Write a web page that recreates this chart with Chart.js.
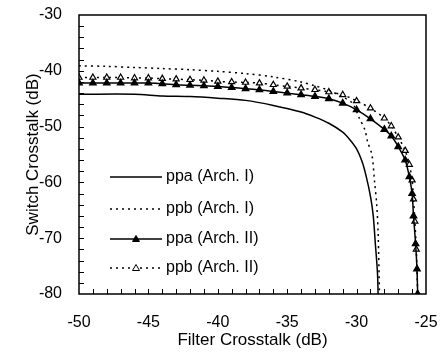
<!DOCTYPE html>
<html>
<head>
<meta charset="utf-8">
<script src="https://cdn.jsdelivr.net/npm/chart.js@4"></script>
<style>
  html, body { margin: 0; padding: 0; background: #fff; }
  #wrap { width: 443px; height: 356px; }
</style>
</head>
<body>
<div id="wrap"><canvas id="c" width="443" height="356"></canvas></div>
<script>
// filter crosstalk (dB) / switch crosstalk (dB)
var ppaArch1X = [-50, -46, -44, -42, -40, -38, -36, -34, -33, -32, -31, -30.5, -30, -29.6, -29.3, -29, -28.8, -28.65, -28.5, -28.45];
var ppaArch1Y = [-44.2, -44.2, -44.5, -44.6, -44.9, -45.3, -46.2, -47.4, -48.3, -49.4, -51, -52.3, -54, -56.3, -59, -62.5, -66, -71, -76, -80];

var ppbArch1X = [-50, -48, -46, -44, -42, -40, -38, -36, -34, -33, -32, -31, -30.3, -29.8, -29.4, -29.2, -28.9, -28.7, -28.55, -28.45, -28.35];
var ppbArch1Y = [-39.1, -39.2, -39.4, -39.6, -39.8, -40.1, -40.5, -41.1, -42, -42.7, -43.5, -44.7, -45.8, -48.5, -50.6, -52.8, -55, -60, -64, -69, -80];

var ppaArch2X = [-50, -49, -48, -47, -46, -45, -44, -43, -42, -41, -40, -39, -38, -37, -36, -35, -34, -33, -32, -31, -30, -29, -28, -27.5, -27, -26.5, -26.2, -26, -25.9, -25.75, -25.65, -25.6];
var ppaArch2Y = [-42.2, -42.2, -42.2, -42.2, -42.2, -42.2, -42.3, -42.5, -42.6, -42.7, -42.8, -43, -43.2, -43.4, -43.7, -44, -44.3, -44.6, -45, -45.8, -47, -48.6, -50.5, -51.7, -53.6, -56, -59, -62, -66, -71, -75.5, -80];

var ppbArch2X = [-50, -49, -48, -47, -46, -45, -44, -43, -42, -41, -40, -39, -38, -37, -36, -35, -34, -33, -32, -31, -30, -29, -28, -27.5, -27, -26.5, -26.2, -26, -25.9, -25.8, -25.7, -25.6];
var ppbArch2Y = [-41.2, -41.2, -41.2, -41.2, -41.3, -41.3, -41.4, -41.5, -41.6, -41.7, -41.9, -42, -42.1, -42.2, -42.5, -42.8, -43.1, -43.4, -43.8, -44.3, -45.4, -46.7, -48.5, -49.9, -51.9, -54.3, -56.8, -59.6, -63, -67, -72, -80];

var seriesLabels = ["ppa (Arch. I)", "ppb (Arch. I)", "ppa (Arch. II)", "ppb (Arch. II)"];
var xTicks = [-50, -45, -40, -35, -30, -25];
var yTicks = [-80, -70, -60, -50, -40, -30];

var FONT = "'Liberation Sans', Arial, sans-serif";

function pts(xs, ys) {
  return xs.map(function (x, i) { return { x: x, y: ys[i] }; });
}

// frame, inward minor ticks and the legend inside the plot
var decorPlugin = {
  id: "decor",
  afterDraw: function (chart) {
    var ctx = chart.ctx, a = chart.chartArea;
    var xs = chart.scales.x, ys = chart.scales.y;
    ctx.save();
    ctx.strokeStyle = "#000";
    ctx.lineWidth = 1;
    for (var v = -49; v < -25; v++) {
      var px = Math.round(xs.getPixelForValue(v)) + 0.5;
      ctx.beginPath(); ctx.moveTo(px, a.bottom); ctx.lineTo(px, a.bottom - 5); ctx.stroke();
    }
    for (var w = -78; w < -30; w += 2) {
      var py = Math.round(ys.getPixelForValue(w)) + 0.5;
      ctx.beginPath(); ctx.moveTo(a.left, py); ctx.lineTo(a.left + 5, py); ctx.stroke();
    }
    ctx.lineWidth = 1.5;
    ctx.strokeRect(a.left, a.top, a.right - a.left, a.bottom - a.top);

    // legend
    var rows = [177, 209, 239, 268];
    ctx.font = "16px " + FONT;
    ctx.fillStyle = "#000";
    ctx.textBaseline = "middle";
    chart.data.datasets.forEach(function (ds, i) {
      var y = rows[i];
      ctx.lineWidth = ds.borderWidth;
      ctx.setLineDash(ds.borderDash || []);
      ctx.beginPath(); ctx.moveTo(110, y); ctx.lineTo(162, y); ctx.stroke();
      ctx.setLineDash([]);
      if (ds.pointRadius > 0) {
        ctx.beginPath();
        ctx.moveTo(136, y - 3.5); ctx.lineTo(139.5, y + 2.5); ctx.lineTo(132.5, y + 2.5); ctx.closePath();
        ctx.fillStyle = ds.pointBackgroundColor;
        ctx.fill();
        ctx.lineWidth = 1;
        ctx.stroke();
        ctx.fillStyle = "#000";
      }
      ctx.fillText(ds.label, 166, y);
    });
    ctx.restore();
  }
};

new Chart(document.getElementById("c"), {
  type: "line",
  data: {
    datasets: [
      { label: seriesLabels[0], data: pts(ppaArch1X, ppaArch1Y), borderColor: "#000", borderWidth: 1.5, pointRadius: 0, tension: 0.3 },
      { label: seriesLabels[1], data: pts(ppbArch1X, ppbArch1Y), borderColor: "#000", borderWidth: 1.5, borderDash: [2, 4], pointRadius: 0, tension: 0.3 },
      { label: seriesLabels[2], data: pts(ppaArch2X, ppaArch2Y), borderColor: "#000", borderWidth: 1.5, pointStyle: "triangle", pointRadius: 3.5, pointBackgroundColor: "#000", pointBorderColor: "#000", tension: 0.3 },
      { label: seriesLabels[3], data: pts(ppbArch2X, ppbArch2Y), borderColor: "#000", borderWidth: 1.5, borderDash: [2, 4], pointStyle: "triangle", pointRadius: 3.5, pointBackgroundColor: "#fff", pointBorderColor: "#000", pointBorderWidth: 1.2, tension: 0.3 }
    ]
  },
  options: {
    responsive: false,
    animation: false,
    layout: { padding: { top: 15, right: 17, left: 0, bottom: 0 } },
    plugins: { legend: { display: false }, tooltip: { enabled: false } },
    scales: {
      x: {
        type: "linear", min: -50, max: -25,
        afterFit: function (s) { s.height = 62; s.paddingLeft = 0; s.paddingRight = 0; },
        afterBuildTicks: function (s) { s.ticks = xTicks.map(function (v) { return { value: v }; }); },
        grid: { display: false, drawTicks: false },
        border: { display: false },
        ticks: { color: "#000", padding: 19, font: { family: FONT, size: 16 }, maxRotation: 0 },
        title: { display: true, text: "Filter Crosstalk (dB)", color: "#000", font: { family: FONT, size: 17 }, padding: { top: 5, bottom: 5 } }
      },
      y: {
        type: "linear", min: -80, max: -30,
        afterFit: function (s) { s.width = 79; s.paddingTop = 0; s.paddingBottom = 0; },
        afterBuildTicks: function (s) { s.ticks = yTicks.map(function (v) { return { value: v }; }); },
        grid: { display: false, drawTicks: false },
        border: { display: false },
        ticks: { color: "#000", padding: 17, font: { family: FONT, size: 16 } },
        title: { display: true, text: "Switch Crosstalk (dB)", color: "#000", font: { family: FONT, size: 17 }, padding: { top: 23, bottom: 23 } }
      }
    }
  },
  plugins: [decorPlugin]
});
</script>
</body>
</html>
